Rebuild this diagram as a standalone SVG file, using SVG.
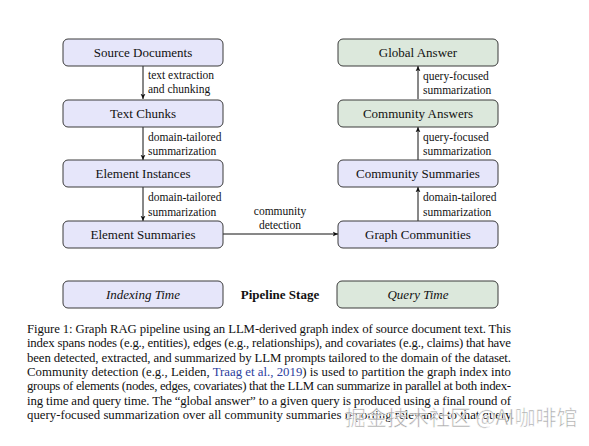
<svg xmlns="http://www.w3.org/2000/svg" width="589" height="446" viewBox="0 0 589 446">
<style>
.idx{fill:#e6e6fa;stroke:#3a3a3a;stroke-width:1}
.qry{fill:#dce8dc;stroke:#3a3a3a;stroke-width:1}
.nl{font-family:"Liberation Serif","Times New Roman",serif;font-size:13px;fill:#111;text-anchor:middle}
.el{font-family:"Liberation Serif","Times New Roman",serif;font-size:11.5px;fill:#111}
.cap{font-family:"Liberation Serif","Times New Roman",serif;font-size:12.8px;fill:#111}
.edge{stroke:#111;stroke-width:1;fill:none;marker-end:url(#ah)}
</style>
<defs>
<marker id="ah" viewBox="0 0 8 8" refX="7" refY="4" markerWidth="6" markerHeight="6" orient="auto" markerUnits="userSpaceOnUse">
<path d="M0,0.8 L7,4 L0,7.2 L1.6,4 Z" fill="#111"/>
</marker>
</defs>
<rect width="589" height="446" fill="#fff"/>
<g id="connectors">
<line class="edge" x1="143" y1="66" x2="143" y2="99"/>
<line class="edge" x1="143" y1="127" x2="143" y2="160"/>
<line class="edge" x1="143" y1="187" x2="143" y2="221"/>
<line class="edge" x1="223" y1="234" x2="338" y2="234"/>
<line class="edge" x1="418" y1="221" x2="418" y2="187"/>
<line class="edge" x1="418" y1="160" x2="418" y2="127"/>
<line class="edge" x1="418" y1="99" x2="418" y2="66"/>
<text class="el" x="148" y="79">text extraction</text>
<text class="el" x="148" y="93">and chunking</text>
<text class="el" x="148" y="141">domain-tailored</text>
<text class="el" x="148" y="155">summarization</text>
<text class="el" x="148" y="201">domain-tailored</text>
<text class="el" x="148" y="216">summarization</text>
<text class="el" x="280" y="215" text-anchor="middle">community</text>
<text class="el" x="280" y="229" text-anchor="middle">detection</text>
<text class="el" x="423" y="80">query-focused</text>
<text class="el" x="423" y="94">summarization</text>
<text class="el" x="423" y="141">query-focused</text>
<text class="el" x="423" y="155">summarization</text>
<text class="el" x="423" y="201">domain-tailored</text>
<text class="el" x="423" y="216">summarization</text>
</g>
<g id="source-documents"><rect class="idx" x="63" y="39" width="160" height="27" rx="5"/><text class="nl" x="143" y="57">Source Documents</text></g>
<g id="text-chunks"><rect class="idx" x="63" y="100" width="160" height="27" rx="5"/><text class="nl" x="143" y="118">Text Chunks</text></g>
<g id="element-instances"><rect class="idx" x="63" y="160" width="160" height="27" rx="5"/><text class="nl" x="143" y="178">Element Instances</text></g>
<g id="element-summaries"><rect class="idx" x="63" y="221" width="160" height="27" rx="5"/><text class="nl" x="143" y="239">Element Summaries</text></g>
<g id="global-answer"><rect class="qry" x="338" y="39" width="160" height="27" rx="5"/><text class="nl" x="418" y="57">Global Answer</text></g>
<g id="community-answers"><rect class="qry" x="338" y="100" width="160" height="27" rx="5"/><text class="nl" x="418" y="118">Community Answers</text></g>
<g id="community-summaries"><rect class="idx" x="338" y="160" width="160" height="27" rx="5"/><text class="nl" x="418" y="178">Community Summaries</text></g>
<g id="graph-communities"><rect class="idx" x="338" y="221" width="160" height="27" rx="5"/><text class="nl" x="418" y="239">Graph Communities</text></g>
<g id="legend-indexing"><rect class="idx" x="63" y="281" width="160" height="27" rx="5"/><text class="nl" x="143" y="299" font-style="italic">Indexing Time</text></g>
<g id="legend-title"><text class="nl" x="280" y="299" font-weight="bold">Pipeline Stage</text></g>
<g id="legend-query"><rect class="qry" x="337" y="281" width="161" height="27" rx="5"/><text class="nl" x="418" y="299" font-style="italic">Query Time</text></g>
<g id="caption">
<text class="cap" x="27" y="333" textLength="484" lengthAdjust="spacing">Figure 1: Graph RAG pipeline using an LLM-derived graph index of source document text. This</text>
<text class="cap" x="27" y="347" textLength="484" lengthAdjust="spacing">index spans nodes (e.g., entities), edges (e.g., relationships), and covariates (e.g., claims) that have</text>
<text class="cap" x="27" y="362" textLength="484" lengthAdjust="spacing">been detected, extracted, and summarized by LLM prompts tailored to the domain of the dataset.</text>
<text class="cap" x="27" y="376" textLength="484" lengthAdjust="spacing">Community detection (e.g., Leiden, <tspan fill="#2c3e9e">Traag et al., 2019</tspan>) is used to partition the graph index into</text>
<text class="cap" x="27" y="390" textLength="484" lengthAdjust="spacing">groups of elements (nodes, edges, covariates) that the LLM can summarize in parallel at both index-</text>
<text class="cap" x="27" y="405" textLength="484" lengthAdjust="spacing">ing time and query time. The “global answer” to a given query is produced using a final round of</text>
<text class="cap" x="27" y="419">query-focused summarization over all community summaries reporting relevance to that query.</text>
</g>
<g id="watermark"><text x="345" y="425" font-family="'Noto Sans CJK SC',sans-serif" font-size="21" fill="#9a9a9a" fill-opacity="0.85" stroke="#fff" stroke-width="0.6">掘金技术社区 @AI咖啡馆</text></g>
</svg>
